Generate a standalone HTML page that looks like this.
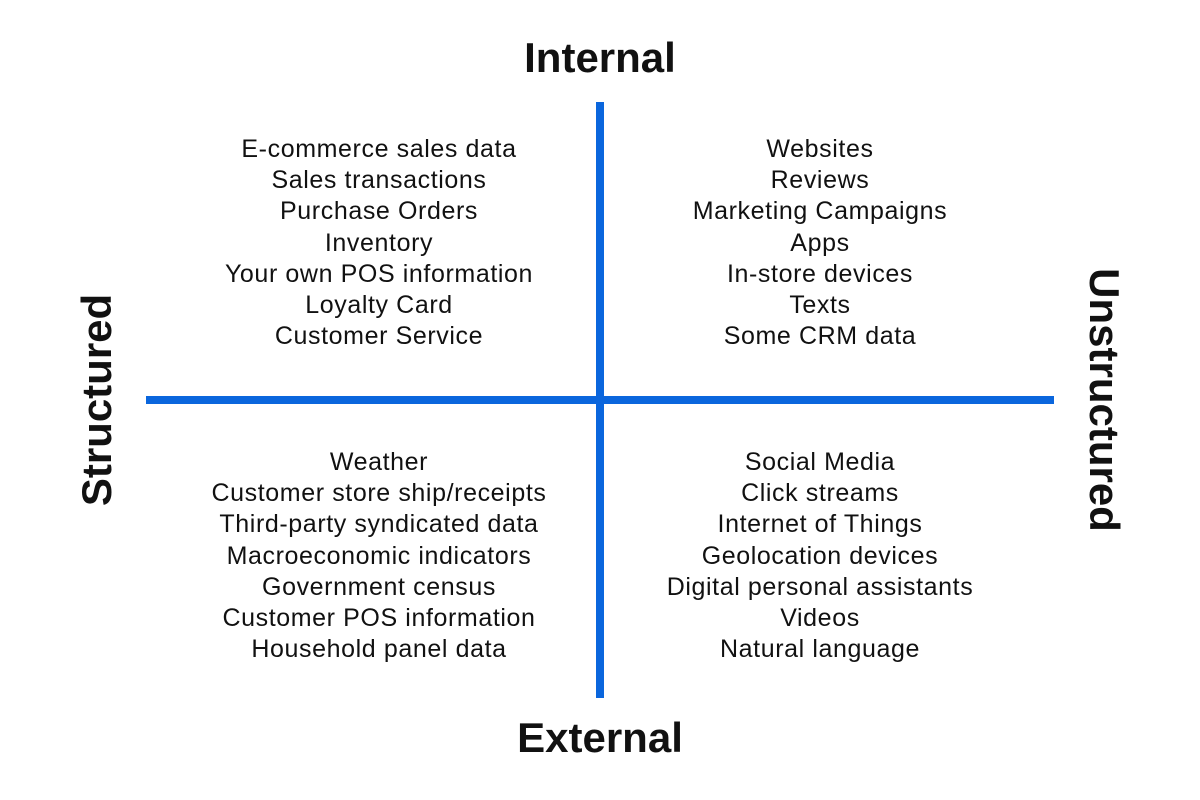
<!DOCTYPE html>
<html><head><style>
body{margin:0;width:1200px;height:800px;background:#fff;position:relative;overflow:hidden;font-family:"Liberation Sans",sans-serif;color:#111}
.l{position:absolute;background:#0a66dd}
.t{position:absolute;font-weight:bold;font-size:42px;line-height:42px;white-space:nowrap}
.c{position:absolute;width:440px;text-align:center;font-size:25px;letter-spacing:0.6px;line-height:31.2px;white-space:nowrap}
</style></head><body>
<div class="l" style="left:596px;top:102px;width:8px;height:596px"></div>
<div class="l" style="left:146px;top:396px;width:908px;height:8px"></div>
<div class="t" style="left:0;width:1200px;text-align:center;top:37px">Internal</div>
<div class="t" style="left:0;width:1200px;text-align:center;top:717px">External</div>
<div class="t" style="left:97px;top:400px;transform:translate(-50%,-50%) rotate(-90deg)">Structured</div>
<div class="t" style="left:1104px;top:400px;transform:translate(-50%,-50%) rotate(90deg)">Unstructured</div>
<div class="c" style="left:159px;top:134px">E-commerce sales data<br>Sales transactions<br>Purchase Orders<br>Inventory<br>Your own POS information<br>Loyalty Card<br>Customer Service</div>
<div class="c" style="left:600px;top:134px">Websites<br>Reviews<br>Marketing Campaigns<br>Apps<br>In-store devices<br>Texts<br>Some CRM data</div>
<div class="c" style="left:159px;top:447px">Weather<br>Customer store ship/receipts<br>Third-party syndicated data<br>Macroeconomic indicators<br>Government census<br>Customer POS information<br>Household panel data</div>
<div class="c" style="left:600px;top:447px">Social Media<br>Click streams<br>Internet of Things<br>Geolocation devices<br>Digital personal assistants<br>Videos<br>Natural language</div>
</body></html>
